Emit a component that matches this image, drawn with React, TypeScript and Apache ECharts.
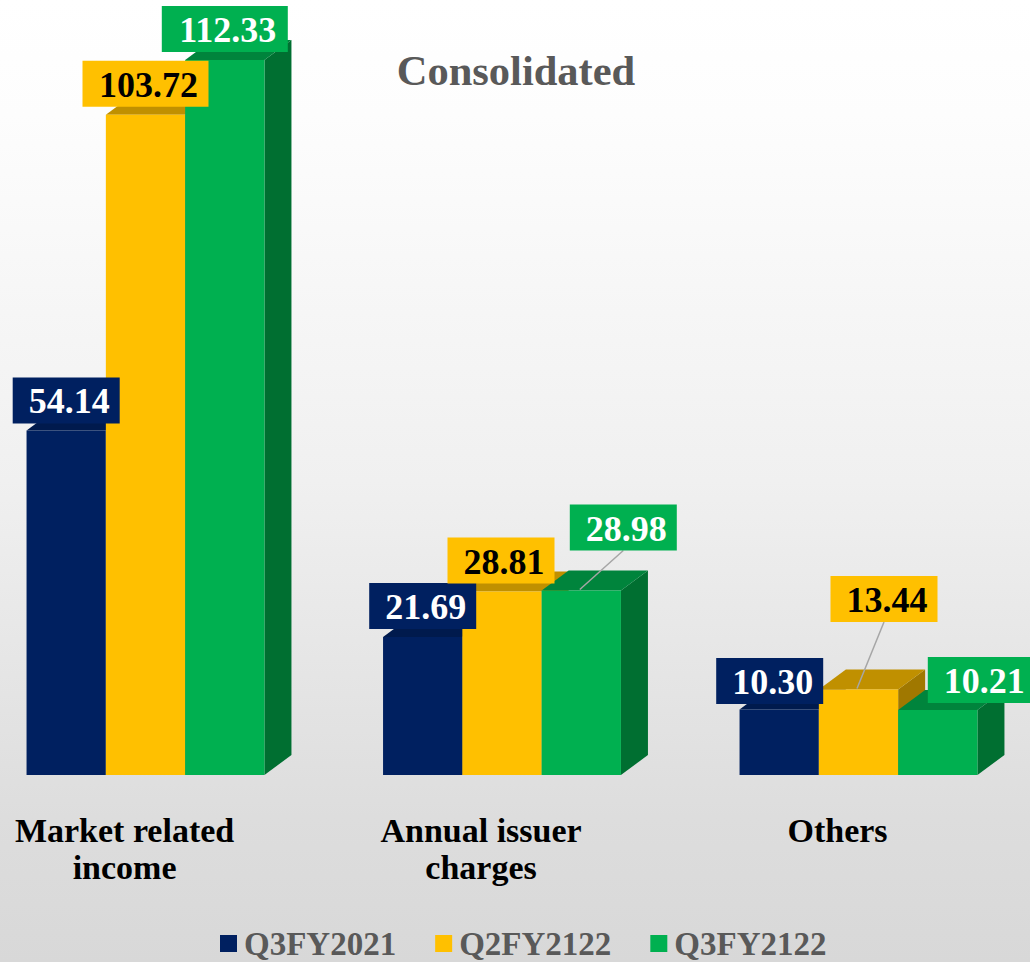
import React, { useEffect, useRef } from "react";
import * as echarts from "echarts";

const categories = ["Market related\nincome", "Annual issuer\ncharges", "Others"];
const seriesNames = ["Q3FY2021", "Q2FY2122", "Q3FY2122"];
const q3fy2021 = [54.14, 21.69, 10.3];
const q2fy2122 = [103.72, 28.81, 13.44];
const q3fy2122 = [112.33, 28.98, 10.21];
const allValues = [q3fy2021, q2fy2122, q3fy2122];

const FRONT = ["#002060", "#FFC000", "#00B050"];
const TOP = ["#001A4D", "#C09000", "#00843C"];
const SIDE = ["#00143A", "#A07800", "#006F31"];
const LABEL_FILL = ["#FFFFFF", "#000000", "#FFFFFF"];

const BAR_W = 79.3;
const DEPTH_X = 27;
const DEPTH_Y = 20;
const BAR_SHIFT = -98;
const BOX_H = 46;
const boxWidth = (v: number) => (v >= 100 ? 126 : 107);

// label box centre relative to the centre of the bar's front top edge [series][category]
const LABEL_OFFSETS = [
  [[0, -30], [0, -31], [-9.5, -28.5]],
  [[0, -31], [-1, -31], [25.5, -90.5]],
  [[0, -31], [42, -63], [43.5, -30]],
];
const LEADERS = [
  [false, false, false],
  [false, false, true],
  [false, true, false],
];

const FONT = '"Liberation Serif", serif';

function barSeries(s: number) {
  return {
    type: "custom",
    name: seriesNames[s],
    z: 2 + s,
    itemStyle: { color: FRONT[s] },
    data: allValues[s].map((v, i) => [i, v]),
    encode: { x: 0, y: 1 },
    renderItem: (_p: any, api: any) => {
      const [cx, yTop] = api.coord([api.value(0), api.value(1)]);
      const [, yBase] = api.coord([api.value(0), 0]);
      const x0 = cx + BAR_SHIFT + BAR_W * s;
      const x1 = x0 + BAR_W;
      return {
        type: "group",
        children: [
          {
            type: "polygon",
            shape: { points: [[x1, yBase], [x1 + DEPTH_X, yBase - DEPTH_Y], [x1 + DEPTH_X, yTop - DEPTH_Y], [x1, yTop]] },
            style: { fill: SIDE[s] },
          },
          {
            type: "polygon",
            shape: { points: [[x0, yTop], [x0 + DEPTH_X, yTop - DEPTH_Y], [x1 + DEPTH_X, yTop - DEPTH_Y], [x1, yTop]] },
            style: { fill: TOP[s] },
          },
          {
            type: "rect",
            shape: { x: x0, y: yTop, width: BAR_W, height: yBase - yTop },
            style: { fill: FRONT[s] },
          },
        ],
      };
    },
  };
}

function labelSeries(s: number) {
  return {
    type: "custom",
    name: "label" + s,
    z: 10 + s,
    silent: true,
    data: allValues[s].map((v, i) => [i, v]),
    encode: { x: 0, y: 1 },
    renderItem: (p: any, api: any) => {
      const i = p.dataIndex;
      const value = api.value(1);
      const [cx, yTop] = api.coord([api.value(0), value]);
      const barC = cx + BAR_SHIFT + BAR_W * s + BAR_W / 2;
      const [dx, dy] = LABEL_OFFSETS[s][i];
      const bx = barC + dx;
      const by = yTop + dy;
      const w = boxWidth(value);
      const children: any[] = [];
      if (LEADERS[s][i]) {
        children.push({
          type: "line",
          shape: { x1: barC - 1.5, y1: yTop - 1, x2: bx, y2: by + BOX_H / 2 },
          style: { stroke: "#A6A6A6", lineWidth: 1.5 },
        });
      }
      children.push({
        type: "rect",
        shape: { x: bx - w / 2, y: by - BOX_H / 2, width: w, height: BOX_H },
        style: { fill: FRONT[s] },
      });
      children.push({
        type: "text",
        x: bx + 3,
        y: by + 1,
        style: {
          text: value.toFixed(2),
          fill: LABEL_FILL[s],
          font: `bold 36px ${FONT}`,
          align: "center",
          verticalAlign: "middle",
        },
      });
      return { type: "group", children };
    },
  };
}

export default function App() {
  const ref = useRef<HTMLDivElement>(null);
  useEffect(() => {
    document.body.style.margin = "0";
    const chart = echarts.init(ref.current!, null, { renderer: "svg" });
    chart.setOption({
      animation: false,
      backgroundColor: {
        type: "linear",
        x: 0,
        y: 0,
        x2: 0,
        y2: 1,
        colorStops: [
          { offset: 0, color: "#FFFFFF" },
          { offset: 0.12, color: "#FDFDFD" },
          { offset: 0.5, color: "#F0F0F0" },
          { offset: 0.85, color: "#DDDDDD" },
          { offset: 1, color: "#D8D8D8" },
        ],
      },
      title: {
        text: "Consolidated",
        left: 516,
        top: 70,
        padding: 0,
        textAlign: "center",
        textVerticalAlign: "middle",
        textStyle: { color: "#595959", fontFamily: FONT, fontWeight: "bold", fontSize: 42.5 },
      },
      legend: {
        data: seriesNames,
        left: 220,
        top: 927,
        padding: 0,
        icon: "rect",
        itemWidth: 17,
        itemHeight: 17,
        itemGap: 39,
        selectedMode: false,
        textStyle: {
          color: "#595959",
          fontFamily: FONT,
          fontWeight: "bold",
          fontSize: 33,
          padding: [0, 0, 0, 2],
        },
      },
      grid: { left: -53.7, width: 1069.5, top: 11.2, height: 763.8, containLabel: false, outerBoundsMode: "none" },
      xAxis: {
        type: "category",
        data: categories,
        axisLine: { show: false },
        axisTick: { show: false },
        axisLabel: {
          interval: 0,
          margin: 37,
          color: "#000000",
          fontFamily: FONT,
          fontWeight: "bold",
          fontSize: 34,
          lineHeight: 37,
          align: "center",
        },
      },
      yAxis: { type: "value", min: 0, max: 120, show: false },
      series: [0, 1, 2].map(barSeries).concat([0, 1, 2].map(labelSeries) as any),
    });
    return () => chart.dispose();
  }, []);
  return <div ref={ref} style={{ width: 1030, height: 962 }} />;
}
